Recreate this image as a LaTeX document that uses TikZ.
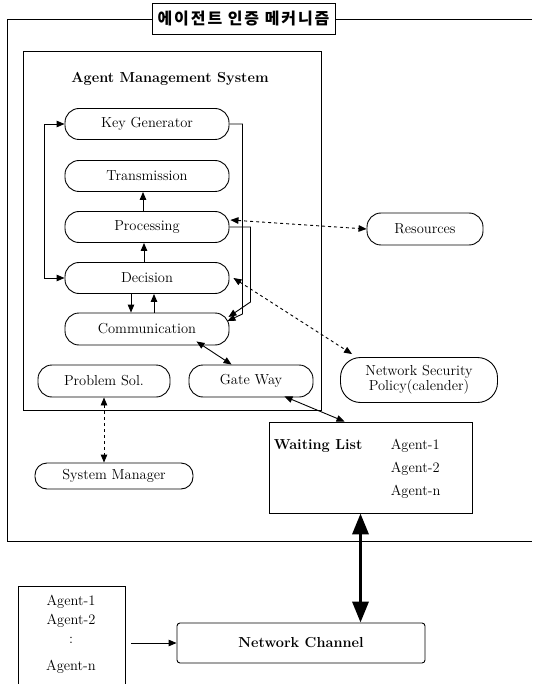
\documentclass[tikz,border=0pt]{standalone}
\usepackage{fontspec}
\newfontfamily\krfont{Noto Sans CJK KR}[LetterSpace=12]
\usetikzlibrary{arrows.meta}

\begin{document}
\begin{tikzpicture}[x=1pt,y=-1pt,line width=0.9pt,
  every node/.style={font=\fontsize{14.5}{17}\selectfont},
  unit/.style={draw,rounded corners=14pt,minimum height=31pt,inner sep=0pt},
  tip/.style={-{Triangle[length=8pt,width=6.5pt]}},
  tips/.style={{Triangle[length=8pt,width=6.5pt]}-{Triangle[length=8pt,width=6.5pt]}},
  dots/.style={dash pattern=on 3pt off 3pt}]
\useasboundingbox (0,0) rectangle (532,684);

% frames
\draw (532,19) -| (7,541) -- (532,541);
\draw (23,51) rectangle (321,410);
\node[draw,fill=white,minimum width=183pt,minimum height=31pt,inner sep=0pt,
  font={\krfont\fontsize{16}{18}\selectfont\bfseries}] (title) at (243.5,18.5) {에이전트 인증 메커니즘};
\node[font=\bfseries\fontsize{14.5}{17}\selectfont] (ams) at (170,79) {Agent Management System};

% units
\node[unit,minimum width=164pt] (kg) at (147,124) {Key Generator};
\node[unit,minimum width=164pt] (tr) at (147,176) {Transmission};
\node[unit,minimum width=164pt] (proc) at (147,227) {Processing};
\node[unit,minimum width=164pt] (dec) at (147,278) {Decision};
\node[unit,minimum width=164pt,minimum height=32pt] (comm) at (147,329) {Communication};
\node[unit,minimum width=132pt,minimum height=32pt] (psol) at (104,381) {Problem Sol.};
\node[unit,minimum width=124pt,minimum height=32pt] (gw) at (251,381) {Gate Way};
\node[unit,minimum width=116pt,minimum height=32pt] (res) at (425,229) {Resources};
\node[unit,rounded corners=20pt,minimum width=157pt,minimum height=45pt,align=center,
  font=\fontsize{14.5}{15}\selectfont] (nsp) at (419,380) {Network Security\\Policy(calender)};
\node[unit,rounded corners=12pt,minimum width=158pt,minimum height=26pt] (sysm) at (114,476) {System Manager};

% waiting list
\node[draw,minimum width=203pt,minimum height=91pt] (wl) at (370.5,467.5) {};
\node[anchor=west,font=\bfseries\fontsize{14.5}{17}\selectfont] (wlt) at (270,446) {Waiting List};
\node[anchor=west] (wa1) at (387,446) {Agent-1};
\node[anchor=west] (wa2) at (387,469) {Agent-2};
\node[anchor=west] (wan) at (387,492) {Agent-n};

% agents and channel
\draw (18,684) |- (125,586) -- (125,684);
\node (ag1) at (71,602) {Agent-1};
\node (ag2) at (71,621) {Agent-2};
\node (agd) at (71,640) {:};
\node (agn) at (71,667) {Agent-n};
\coordinate (agout) at (131,643);
\node[draw,rounded corners=3pt,minimum width=248pt,minimum height=40pt,
  font=\bfseries\fontsize{14.5}{17}\selectfont] (nc) at (301,643) {Network Channel};

% connectors
\draw[tip] ([xshift=-4pt]proc.north) -- ([xshift=-4pt]tr.south);
\draw[tip] ([xshift=-3pt]dec.north) -- ([xshift=-3pt]proc.south);
\draw[tip] ([xshift=-16pt]dec.south) -- ([xshift=-16pt]comm.north);
\draw[tip] ([xshift=7pt]comm.north) -- ([xshift=7pt]dec.south);
\draw[tips] (dec.west) -- ++(-20,0) |- (kg.west);
\draw[tip] (kg.east) -- ++(13,0) -- ++(0,190) -- ([xshift=-2pt,yshift=8pt]comm.east);
\draw[tip] (proc.east) -- ++(21,0) -- ++(0,75) -- ([xshift=-1pt,yshift=12pt]comm.east);
\draw[tips,dots] ([xshift=1pt,yshift=7pt]proc.east) -- (res.west);
\draw[tips,dots] ([xshift=4pt]dec.east) -- ([xshift=12pt,yshift=3pt]nsp.north west);
\draw[tips] ([xshift=-33pt,yshift=4pt]comm.south east) -- ([xshift=43pt]gw.north west);
\draw[tips] ([xshift=-29pt,yshift=1pt]gw.south east) -- ([xshift=76pt]wl.north west);
\draw[tips,dots] (psol.south) -- (psol.south |- sysm.north);
\draw[line width=3.5pt,{Triangle[length=21pt,width=16pt]}-{Triangle[length=21pt,width=16pt]}]
  ([xshift=-10pt]wl.south) -- ([xshift=-10pt]wl.south |- nc.north);
\draw[tip] (agout) -- (nc.west);

\end{tikzpicture}
\end{document}
